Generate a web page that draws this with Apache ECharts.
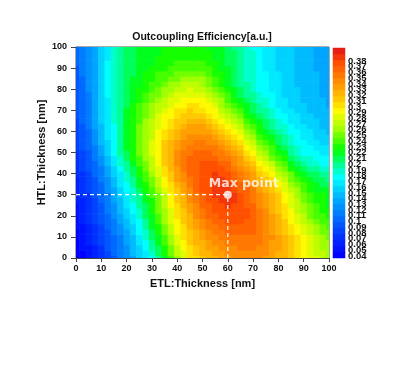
<!DOCTYPE html>
<html><head><meta charset="utf-8">
<script src="https://cdn.jsdelivr.net/npm/echarts/dist/echarts.min.js"></script>
<style>html,body{margin:0;padding:0;background:#fff}#c{width:400px;height:390px}</style>
</head><body><div id="c"></div>
<script>
// ---- data ----
const xValues = [0,2.5,5,7.5,10,12.5,15,17.5,20,22.5,25,27.5,30,32.5,35,37.5,40,42.5,45,47.5,50,52.5,55,57.5,60,62.5,65,67.5,70,72.5,75,77.5,80,82.5,85,87.5,90,92.5,95,97.5,100];
const yValues = [0,2.5,5,7.5,10,12.5,15,17.5,20,22.5,25,27.5,30,32.5,35,37.5,40,42.5,45,47.5,50,52.5,55,57.5,60,62.5,65,67.5,70,72.5,75,77.5,80,82.5,85,87.5,90,92.5,95,97.5,100];
const row_y0    = [.040,.046,.052,.062,.072,.084,.097,.110,.123,.136,.150,.164,.178,.195,.212,.233,.255,.273,.290,.298,.305,.312,.318,.323,.327,.330,.332,.333,.332,.330,.327,.322,.317,.310,.302,.293,.285,.277,.270,.262,.255];
const row_y2_5  = [.042,.048,.055,.065,.075,.087,.100,.113,.126,.140,.154,.169,.184,.202,.220,.241,.262,.279,.294,.302,.310,.317,.323,.328,.332,.335,.337,.338,.337,.334,.330,.325,.319,.311,.302,.293,.284,.276,.269,.261,.254];
const row_y5    = [.043,.050,.057,.067,.078,.090,.102,.115,.128,.143,.158,.174,.190,.209,.228,.248,.268,.284,.298,.306,.314,.321,.328,.332,.336,.339,.341,.342,.341,.338,.333,.327,.320,.311,.302,.292,.283,.275,.267,.259,.252];
const row_y7_5  = [.045,.052,.060,.070,.081,.093,.105,.117,.130,.146,.162,.178,.195,.214,.233,.253,.272,.288,.302,.311,.319,.326,.333,.337,.341,.344,.345,.346,.345,.341,.336,.329,.321,.312,.302,.291,.282,.273,.265,.257,.250];
const row_y10   = [.046,.054,.062,.073,.084,.095,.107,.119,.132,.148,.165,.182,.200,.219,.238,.257,.276,.291,.305,.315,.323,.331,.337,.342,.345,.348,.349,.349,.348,.344,.338,.330,.322,.312,.301,.290,.280,.271,.263,.255,.248];
const row_y12_5 = [.048,.056,.065,.076,.087,.098,.111,.123,.136,.153,.170,.187,.205,.224,.243,.262,.280,.295,.309,.319,.328,.336,.342,.347,.351,.353,.354,.353,.350,.344,.337,.328,.319,.309,.297,.286,.275,.266,.257,.249,.242];
const row_y15   = [.050,.058,.067,.078,.089,.101,.114,.127,.140,.157,.175,.192,.210,.229,.248,.266,.283,.298,.312,.323,.332,.340,.347,.352,.356,.358,.358,.356,.351,.344,.336,.326,.316,.305,.293,.281,.270,.260,.250,.243,.236];
const row_y17_5 = [.052,.060,.070,.081,.092,.105,.118,.132,.145,.162,.179,.196,.214,.233,.252,.270,.287,.302,.315,.327,.337,.345,.352,.357,.361,.362,.362,.358,.352,.343,.334,.324,.313,.302,.289,.277,.265,.255,.244,.237,.231];
const row_y20   = [.053,.062,.072,.083,.095,.108,.122,.136,.150,.166,.183,.200,.218,.236,.255,.273,.290,.305,.318,.330,.341,.350,.357,.362,.365,.366,.365,.360,.352,.342,.332,.321,.310,.298,.285,.272,.260,.249,.238,.231,.225];
const row_y22_5 = [.055,.064,.074,.085,.097,.111,.125,.140,.155,.171,.188,.205,.222,.240,.259,.277,.294,.309,.323,.335,.346,.354,.361,.366,.368,.368,.366,.360,.351,.341,.330,.319,.308,.295,.282,.269,.256,.245,.234,.228,.222];
const row_y25   = [.057,.066,.075,.087,.099,.113,.128,.144,.160,.176,.192,.209,.226,.244,.262,.280,.298,.313,.327,.339,.350,.358,.365,.369,.371,.369,.366,.359,.350,.339,.328,.317,.305,.292,.278,.265,.252,.241,.230,.224,.218];
const row_y27_5 = [.060,.068,.077,.089,.101,.116,.131,.148,.164,.180,.195,.212,.228,.247,.265,.283,.300,.316,.331,.343,.354,.361,.368,.371,.373,.370,.365,.357,.348,.337,.326,.315,.303,.289,.275,.262,.249,.238,.228,.222,.217];
const row_y30   = [.062,.070,.078,.090,.103,.118,.134,.151,.168,.183,.198,.214,.230,.249,.268,.285,.302,.318,.334,.346,.357,.364,.370,.373,.375,.370,.363,.354,.345,.334,.323,.312,.300,.286,.271,.258,.245,.235,.225,.220,.215];
const row_y32_5 = [.064,.072,.080,.093,.106,.121,.138,.156,.173,.189,.204,.221,.237,.256,.274,.292,.309,.324,.339,.350,.360,.366,.371,.373,.373,.367,.359,.350,.340,.329,.318,.306,.294,.279,.264,.252,.239,.229,.219,.215,.210];
const row_y35   = [.066,.074,.082,.095,.108,.124,.141,.160,.178,.194,.210,.227,.243,.262,.280,.298,.315,.329,.343,.353,.363,.368,.372,.372,.370,.363,.355,.345,.335,.324,.312,.300,.287,.272,.257,.245,.232,.222,.213,.209,.205];
const row_y37_5 = [.068,.076,.085,.098,.112,.128,.146,.164,.182,.198,.215,.232,.249,.268,.287,.304,.320,.334,.347,.356,.365,.369,.371,.370,.366,.358,.349,.339,.328,.316,.304,.291,.278,.263,.249,.236,.224,.215,.207,.203,.199];
const row_y40   = [.070,.078,.087,.101,.115,.132,.150,.167,.185,.202,.220,.237,.255,.274,.293,.309,.325,.338,.350,.359,.367,.369,.370,.367,.362,.353,.343,.332,.320,.308,.295,.282,.268,.254,.240,.227,.215,.207,.200,.196,.192];
const row_y42_5 = [.072,.081,.090,.104,.119,.137,.156,.174,.192,.209,.226,.243,.260,.279,.297,.312,.328,.340,.351,.359,.365,.366,.365,.362,.356,.346,.336,.324,.311,.299,.285,.271,.257,.243,.229,.217,.206,.198,.192,.188,.184];
const row_y45   = [.074,.083,.092,.107,.123,.142,.162,.180,.198,.215,.232,.248,.265,.283,.300,.315,.330,.341,.352,.358,.362,.362,.360,.356,.350,.339,.328,.315,.302,.289,.275,.260,.245,.231,.218,.207,.196,.189,.183,.179,.176];
const row_y47_5 = [.076,.086,.095,.111,.128,.147,.167,.185,.203,.220,.236,.252,.268,.285,.302,.316,.330,.341,.350,.355,.357,.357,.354,.349,.343,.332,.320,.306,.292,.279,.265,.249,.234,.221,.208,.198,.187,.182,.177,.173,.171];
const row_y50   = [.078,.088,.098,.115,.132,.152,.172,.190,.207,.224,.240,.255,.270,.287,.303,.317,.330,.340,.348,.351,.352,.351,.348,.342,.335,.324,.312,.297,.282,.269,.255,.238,.222,.210,.198,.188,.178,.174,.170,.167,.165];
const row_y52_5 = [.080,.091,.101,.119,.136,.155,.174,.192,.210,.226,.242,.256,.270,.286,.302,.314,.326,.335,.343,.346,.346,.344,.341,.334,.326,.315,.302,.287,.272,.259,.245,.230,.215,.203,.192,.183,.174,.170,.166,.163,.161];
const row_y55   = [.082,.093,.104,.122,.140,.158,.175,.194,.212,.228,.243,.257,.270,.285,.300,.311,.322,.330,.338,.340,.340,.337,.333,.325,.317,.305,.292,.277,.262,.249,.235,.221,.207,.196,.185,.177,.170,.165,.161,.158,.156];
const row_y57_5 = [.084,.095,.107,.125,.143,.160,.177,.195,.213,.228,.243,.256,.269,.283,.297,.307,.318,.325,.332,.334,.334,.330,.325,.316,.307,.294,.281,.267,.253,.239,.225,.213,.201,.191,.182,.174,.168,.163,.158,.155,.152];
const row_y60   = [.085,.097,.109,.128,.146,.162,.178,.196,.214,.228,.242,.255,.267,.280,.293,.303,.313,.320,.326,.327,.327,.322,.316,.306,.296,.283,.270,.257,.243,.229,.215,.205,.195,.186,.178,.171,.165,.160,.155,.151,.148];
const row_y62_5 = [.087,.099,.111,.130,.148,.164,.179,.197,.214,.227,.240,.253,.265,.277,.289,.299,.308,.315,.321,.321,.320,.314,.307,.297,.286,.273,.260,.248,.234,.221,.208,.198,.188,.180,.173,.167,.162,.157,.153,.149,.147];
const row_y65   = [.088,.100,.113,.132,.150,.165,.180,.197,.213,.226,.238,.250,.262,.274,.285,.294,.303,.309,.315,.314,.312,.305,.298,.287,.275,.263,.250,.238,.225,.212,.200,.190,.180,.174,.168,.163,.158,.154,.150,.147,.145];
const row_y67_5 = [.090,.102,.115,.134,.152,.167,.181,.197,.212,.224,.236,.247,.258,.270,.280,.289,.298,.303,.308,.307,.305,.297,.289,.278,.265,.253,.240,.228,.216,.206,.195,.185,.175,.170,.164,.160,.155,.151,.148,.145,.143];
const row_y70   = [.091,.103,.116,.135,.153,.168,.182,.196,.210,.222,.233,.244,.254,.265,.275,.284,.292,.296,.300,.299,.297,.289,.280,.268,.255,.243,.230,.218,.207,.199,.190,.180,.170,.165,.160,.156,.152,.148,.145,.142,.140];
const row_y72_5 = [.092,.104,.117,.136,.154,.169,.183,.196,.209,.220,.230,.240,.250,.260,.269,.278,.285,.289,.293,.291,.289,.281,.271,.259,.246,.234,.222,.211,.201,.194,.185,.177,.168,.163,.158,.154,.151,.147,.144,.141,.139];
const row_y75   = [.093,.105,.118,.137,.155,.169,.183,.195,.207,.217,.227,.236,.245,.254,.263,.271,.278,.282,.285,.283,.281,.272,.262,.250,.237,.225,.213,.204,.195,.188,.180,.173,.166,.161,.156,.152,.149,.146,.143,.140,.138];
const row_y77_5 = [.094,.106,.119,.138,.156,.170,.184,.195,.206,.215,.224,.233,.241,.249,.257,.264,.271,.275,.279,.276,.273,.264,.253,.242,.230,.218,.207,.199,.191,.184,.176,.170,.164,.159,.155,.151,.148,.145,.142,.139,.137];
const row_y80   = [.095,.107,.120,.138,.156,.170,.184,.195,.205,.213,.221,.229,.236,.243,.250,.257,.263,.268,.272,.269,.265,.255,.244,.233,.222,.211,.201,.194,.186,.179,.172,.167,.162,.157,.153,.150,.147,.144,.141,.138,.136];
const row_y82_5 = [.096,.108,.121,.139,.156,.170,.184,.195,.204,.212,.219,.226,.232,.239,.245,.251,.256,.260,.264,.261,.258,.248,.238,.228,.218,.208,.199,.192,.184,.178,.171,.166,.161,.156,.152,.149,.146,.143,.141,.138,.136];
const row_y85   = [.097,.109,.121,.139,.156,.170,.184,.194,.203,.210,.216,.222,.228,.234,.239,.244,.248,.252,.255,.253,.250,.241,.232,.222,.213,.204,.196,.189,.182,.176,.170,.165,.160,.155,.151,.148,.145,.142,.140,.137,.135];
const row_y87_5 = [.098,.110,.122,.139,.156,.170,.184,.194,.203,.209,.215,.220,.225,.230,.234,.238,.241,.244,.247,.245,.243,.236,.228,.220,.212,.203,.195,.188,.181,.176,.170,.165,.160,.155,.151,.148,.145,.142,.140,.137,.135];
const row_y90   = [.099,.110,.122,.139,.156,.170,.183,.193,.202,.208,.213,.217,.221,.225,.228,.231,.234,.236,.238,.237,.236,.230,.224,.217,.210,.202,.194,.187,.180,.175,.169,.164,.159,.154,.150,.147,.144,.141,.139,.136,.134];
const row_y92_5 = [.100,.111,.123,.139,.156,.170,.183,.193,.202,.207,.212,.216,.219,.223,.225,.228,.230,.231,.233,.232,.231,.227,.222,.216,.209,.202,.194,.187,.180,.175,.169,.164,.159,.154,.150,.147,.144,.141,.139,.136,.134];
const row_y95   = [.100,.111,.123,.139,.155,.169,.182,.192,.201,.206,.211,.214,.217,.220,.222,.224,.225,.226,.227,.227,.226,.223,.219,.214,.208,.201,.194,.187,.180,.175,.169,.164,.159,.154,.150,.147,.144,.141,.139,.136,.134];
const row_y97_5 = [.101,.112,.123,.139,.154,.168,.181,.191,.201,.206,.211,.214,.216,.219,.221,.223,.223,.224,.224,.224,.223,.221,.217,.213,.207,.200,.193,.187,.180,.175,.169,.164,.159,.155,.150,.147,.144,.141,.139,.136,.134];
const row_y100  = [.101,.112,.123,.138,.152,.166,.180,.190,.200,.205,.210,.213,.215,.218,.220,.221,.221,.221,.221,.221,.220,.218,.215,.211,.206,.199,.192,.186,.179,.174,.169,.164,.159,.155,.150,.147,.144,.141,.139,.136,.134];
const effRows = [row_y0,row_y2_5,row_y5,row_y7_5,row_y10,row_y12_5,row_y15,row_y17_5,row_y20,row_y22_5,
  row_y25,row_y27_5,row_y30,row_y32_5,row_y35,row_y37_5,row_y40,row_y42_5,row_y45,row_y47_5,row_y50,
  row_y52_5,row_y55,row_y57_5,row_y60,row_y62_5,row_y65,row_y67_5,row_y70,row_y72_5,row_y75,row_y77_5,
  row_y80,row_y82_5,row_y85,row_y87_5,row_y90,row_y92_5,row_y95,row_y97_5,row_y100];
const levels = [0.04,0.05,0.06,0.07,0.08,0.09,0.1,0.11,0.12,0.13,0.14,0.15,0.16,0.17,0.18,0.19,0.2,
                0.21,0.22,0.23,0.24,0.25,0.26,0.27,0.28,0.29,0.3,0.31,0.32,0.33,0.34,0.35,0.36,0.37,0.38];
const maxPoint = [60, 30];
const maxLabel = 'Max point';
const titleText = 'Outcoupling Efficiency[a.u.]';
const xName = 'ETL:Thickness [nm]';
const yName = 'HTL:Thickness [nm]';

// ---- styles ----
const anchors = [
  [0.04,[0,0,255]],[0.07,[0,50,255]],[0.10,[0,105,255]],[0.13,[0,165,255]],[0.15,[0,210,255]],
  [0.17,[0,255,255]],[0.19,[0,255,150]],[0.21,[0,255,30]],[0.22,[20,255,0]],[0.25,[160,255,0]],
  [0.28,[255,250,0]],[0.30,[255,200,0]],[0.33,[255,140,0]],[0.36,[255,80,0]],[0.38,[230,30,20]]
];
function colorAt(v){
  for (let i=0;i<anchors.length-1;i++){
    const a=anchors[i], b=anchors[i+1];
    if (v <= b[0]+1e-9){
      const t=(v-a[0])/(b[0]-a[0]);
      const c=a[1].map((c0,k)=>Math.round(c0+(b[1][k]-c0)*t));
      return 'rgb('+c.join(',')+')';
    }
  }
  return 'rgb(230,30,20)';
}
const pieces = levels.map((v,i)=>({
  gte: i===0 ? -1 : v - 1e-6,
  lt: i===levels.length-1 ? 1 : levels[i+1] - 1e-6,
  color: colorAt(v)
}));

const cells = [];
effRows.forEach((row, j) => row.forEach((v, i) => cells.push([xValues[i], yValues[j], v])));
const halfX = (xValues[1]-xValues[0])/2, halfY = (yValues[1]-yValues[0])/2;
const barCells = levels.map((v,i)=>[0,i,v]);

// colour-bar label axis: range chosen so labels sit where the reference prints them
const CB_MIN = 0.036513, CB_MAX = 0.40267;
const cbLabelValues = [CB_MIN].concat(levels, [CB_MAX]);

const FONT = 'Liberation Sans';
const TXT = '#111';
const chart = echarts.init(document.getElementById('c'));
chart.setOption({
  backgroundColor:'#fff',
  animation:false,
  graphic:[{type:'text', x:202, y:37, style:{text:titleText, align:'center', verticalAlign:'middle',
    font:'bold 10.5px "'+FONT+'"', fill:TXT}}],
  grid:[
    {left:76, right:71, top:47, bottom:132, show:true, borderColor:'#555', borderWidth:1, backgroundColor:'transparent'},
    {left:333, top:48, width:12, height:210, show:false}
  ],
  xAxis:[
    {type:'value', min:0, max:100, interval:10,
    name:xName, nameLocation:'middle', nameGap:20,
    nameTextStyle:{fontFamily:FONT, fontWeight:'bold', fontSize:11, color:TXT},
    axisLine:{lineStyle:{color:'#444'}}, axisTick:{length:4, lineStyle:{color:'#444'}},
    axisLabel:{margin:6, fontFamily:FONT, fontWeight:'bold', fontSize:9, color:TXT},
    splitLine:{show:false}},
    {gridIndex:1, type:'category', data:['c'], show:false}
  ],
  yAxis:[
    {type:'value', min:0, max:100, interval:10,
    name:yName, nameLocation:'middle', nameGap:29, nameMoveOverlap:false,
    nameTextStyle:{fontFamily:FONT, fontWeight:'bold', fontSize:11, color:TXT},
    axisLine:{show:true, lineStyle:{color:'#444'}}, axisTick:{show:true, length:5, lineStyle:{color:'#444'}},
    axisLabel:{margin:9, fontFamily:FONT, fontWeight:'bold', fontSize:9, color:TXT},
    splitLine:{show:false}},
    {gridIndex:1, type:'category', data:levels.map(String), show:false},
    {gridIndex:1, type:'value', min:CB_MIN, max:CB_MAX, position:'right',
     axisLine:{show:false}, axisTick:{show:false}, splitLine:{show:false},
     axisLabel:{customValues:cbLabelValues,
       formatter:function(v){return (v===CB_MIN||v===CB_MAX) ? '' : String(v);}, margin:3,
       fontFamily:FONT, fontWeight:'bold', fontSize:9.5, color:TXT,
       showMinLabel:false, showMaxLabel:false, hideOverlap:false}}
  ],
  visualMap:{type:'piecewise', show:false, dimension:2, seriesIndex:[0,4], pieces:pieces},
  series:[
    {type:'custom', data:cells, encode:{x:0,y:1}, z:1, silent:true,
     renderItem:function(params, api){
       const x=api.value(0), y=api.value(1);
       const p0=api.coord([x-halfX, y+halfY]);
       const p1=api.coord([x+halfX, y-halfY]);
       const cs=params.coordSys;
       const r=echarts.graphic.clipRectByRect(
         {x:p0[0], y:p0[1], width:p1[0]-p0[0]+0.6, height:p1[1]-p0[1]+0.6},
         {x:cs.x, y:cs.y, width:cs.width, height:cs.height});
       return r && {type:'rect', shape:r, style:{fill:api.visual('color')}};
     }},
    {type:'line', data:[[0, maxPoint[1]], maxPoint], symbol:'none', z:3, silent:true,
     lineStyle:{color:'#fff', width:1.2, type:[4,3]}},
    {type:'line', data:[[maxPoint[0], 0], maxPoint], symbol:'none', z:3, silent:true,
     lineStyle:{color:'#fff', width:1.2, type:[4,3]}},
    {type:'scatter', data:[maxPoint], symbolSize:8, z:4, silent:true,
     itemStyle:{color:'#fff'},
     label:{show:true, formatter:maxLabel, position:[-15,-13], align:'left', verticalAlign:'top',
       color:'#fff', fontFamily:'DejaVu Sans', fontWeight:'bold', fontSize:12.5}},
    {type:'heatmap', xAxisIndex:1, yAxisIndex:1, data:barCells, silent:true, z:1}
  ]
});
</script></body></html>
